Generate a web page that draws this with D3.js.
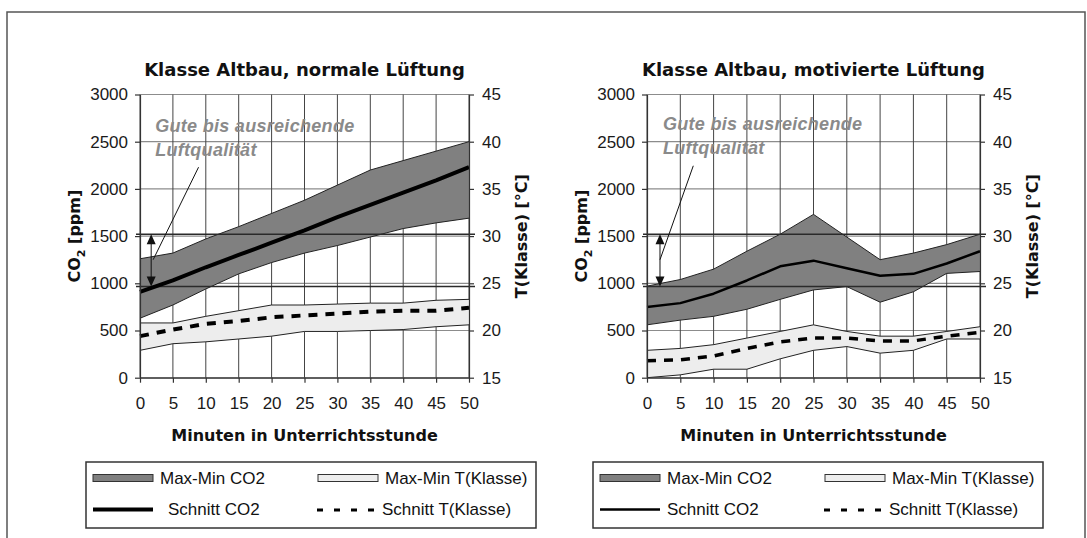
<!DOCTYPE html>
<html>
<head>
<meta charset="utf-8">
<script src="https://cdn.jsdelivr.net/npm/d3@7"></script>
<style>
  body { margin: 0; background: #fff; }
  svg { display: block; }
  .axis text { font-family: "Liberation Sans", Arial, sans-serif; font-size: 17px; fill: #1a1a1a; }
  .axis .domain, .axis line { stroke: #333; }
  .bold { font-family: "DejaVu Sans", sans-serif; font-weight: bold; fill: #111; }
  .legend text { font-family: "Liberation Sans", Arial, sans-serif; font-size: 17px; fill: #111; }
  .note { font-family: "Liberation Sans", Arial, sans-serif; font-weight: bold; font-style: italic; font-size: 18px; letter-spacing: 0.3px; fill: #8a8a8a; }
</style>
</head>
<body>
<svg id="chart" width="1087" height="538"></svg>
<script>
'use strict'

const minutes = [0, 5, 10, 15, 20, 25, 30, 35, 40, 45, 50]
const co2Ticks = [0, 500, 1000, 1500, 2000, 2500, 3000]
const tempTicks = [15, 20, 25, 30, 35, 40, 45]

// Klasse Altbau, normale Lüftung
const normalCo2Max = [1260, 1320, 1470, 1600, 1740, 1880, 2040, 2200, 2300, 2400, 2500]
const normalCo2Avg = [910, 1030, 1170, 1300, 1430, 1560, 1700, 1830, 1960, 2090, 2230]
const normalCo2Min = [630, 770, 940, 1100, 1220, 1320, 1400, 1490, 1580, 1640, 1690]
const normalTMax = [20.8, 20.8, 21.5, 22.1, 22.7, 22.7, 22.8, 22.9, 22.9, 23.2, 23.3]
const normalTAvg = [19.4, 20.1, 20.7, 21.0, 21.4, 21.6, 21.8, 22.0, 22.1, 22.1, 22.4]
const normalTMin = [17.9, 18.6, 18.8, 19.1, 19.4, 19.9, 19.9, 20.0, 20.1, 20.4, 20.6]

// Klasse Altbau, motivierte Lüftung
const motivCo2Max = [970, 1040, 1150, 1340, 1520, 1730, 1490, 1250, 1320, 1410, 1520]
const motivCo2Avg = [750, 790, 890, 1030, 1180, 1240, 1160, 1080, 1100, 1210, 1340]
const motivCo2Min = [560, 610, 650, 725, 830, 930, 965, 800, 910, 1105, 1125]
const motivTMax = [17.9, 18.1, 18.5, 19.2, 19.9, 20.6, 19.9, 19.4, 19.4, 19.9, 20.4]
const motivTAvg = [16.8, 16.9, 17.3, 18.1, 18.8, 19.2, 19.2, 18.9, 18.9, 19.4, 19.8]
const motivTMin = [15.0, 15.3, 15.9, 15.9, 17.0, 17.9, 18.3, 17.6, 17.9, 19.1, 19.1]

// band "Gute bis ausreichende Luftqualität" (ppm)
const airQualityLimits = [1520, 965]
const noteLines = ['Gute bis ausreichende', 'Luftqualität']
const legendLabels = ['Max-Min CO2', 'Max-Min T(Klasse)', 'Schnitt CO2', 'Schnitt T(Klasse)']

const panels = [
  {
    title: 'Klasse Altbau, normale Lüftung',
    left: 140, right: 469, legendX: 86,
    co2Max: normalCo2Max, co2Avg: normalCo2Avg, co2Min: normalCo2Min,
    tMax: normalTMax, tAvg: normalTAvg, tMin: normalTMin,
    avgWidth: 4, dashWidth: 4, row2TextX: 82,
    arrowAt: 1.7, noteAt: [2.3, 2600], pointer: [[8.9, 2230], [2.0, 1250]]
  },
  {
    title: 'Klasse Altbau, motivierte Lüftung',
    left: 647, right: 980, legendX: 593,
    co2Max: motivCo2Max, co2Avg: motivCo2Avg, co2Min: motivCo2Min,
    tMax: motivTMax, tAvg: motivTAvg, tMin: motivTMin,
    avgWidth: 2.5, dashWidth: 3.5, row2TextX: 74,
    arrowAt: 1.95, noteAt: [2.4, 2620], pointer: [[6.95, 2245], [1.95, 1250]]
  }
]

const svg = d3.select('#chart')
const plotTop = 94.5
const plotBottom = 377.7

// outer frame (runs off the bottom edge)
svg.append('rect')
  .attr('x', 7).attr('y', 12).attr('width', 1078).attr('height', 600)
  .attr('fill', 'none').attr('stroke', '#555').attr('stroke-width', 1.5)

panels.forEach(drawPanel)

function drawPanel (p) {
  const g = svg.append('g')
  const xScale = d3.scaleLinear().domain([0, 50]).range([p.left, p.right])
  const yScale = d3.scaleLinear().domain([0, 3000]).range([plotBottom, plotTop])
  const tScale = d3.scaleLinear().domain([15, 45]).range([plotBottom, plotTop])

  const rows = minutes.map((m, i) => ({
    m: m,
    co2Max: p.co2Max[i], co2Avg: p.co2Avg[i], co2Min: p.co2Min[i],
    tMax: p.tMax[i], tAvg: p.tAvg[i], tMin: p.tMin[i]
  }))

  // gridlines
  g.selectAll('.hgrid').data(co2Ticks).enter().append('line')
    .attr('x1', p.left).attr('x2', p.right)
    .attr('y1', d => yScale(d)).attr('y2', d => yScale(d))
    .attr('stroke', '#8c8c8c').attr('stroke-width', 1.2)

  g.selectAll('.vgrid').data(minutes).enter().append('line')
    .attr('x1', d => xScale(d)).attr('x2', d => xScale(d))
    .attr('y1', yScale(0)).attr('y2', yScale(3000))
    .attr('stroke', '#444').attr('stroke-width', 1)

  // max-min bands
  function band (scale, lo, hi, fill) {
    g.append('path').datum(rows)
      .attr('fill', fill)
      .attr('d', d3.area().x(d => xScale(d.m)).y0(d => scale(d[lo])).y1(d => scale(d[hi])))
    ;[lo, hi].forEach(k => {
      g.append('path').datum(rows)
        .attr('fill', 'none').attr('stroke', '#222').attr('stroke-width', 1)
        .attr('d', d3.line().x(d => xScale(d.m)).y(d => scale(d[k])))
    })
  }
  band(yScale, 'co2Min', 'co2Max', '#808080')
  band(tScale, 'tMin', 'tMax', '#ededed')

  // limits of the air quality range
  g.selectAll('.limit').data(airQualityLimits).enter().append('line')
    .attr('x1', p.left - 4).attr('x2', p.right + 6)
    .attr('y1', d => yScale(d)).attr('y2', d => yScale(d))
    .attr('stroke', '#2a2a2a').attr('stroke-width', 1.5)

  // averages
  g.append('path').datum(rows)
    .attr('fill', 'none').attr('stroke', '#000').attr('stroke-width', p.avgWidth)
    .attr('stroke-linejoin', 'round')
    .attr('d', d3.line().x(d => xScale(d.m)).y(d => yScale(d.co2Avg)))

  g.append('path').datum(rows)
    .attr('fill', 'none').attr('stroke', '#000').attr('stroke-width', p.dashWidth)
    .attr('stroke-dasharray', '9,8')
    .attr('d', d3.line().x(d => xScale(d.m)).y(d => tScale(d.tAvg)))

  // axes
  const yAxis = g.append('g').attr('class', 'axis')
    .attr('transform', 'translate(' + p.left + ',0)')
    .call(d3.axisLeft(yScale).tickValues(co2Ticks).tickFormat(d3.format('d'))
      .tickSizeInner(5).tickSizeOuter(0).tickPadding(7))

  const xAxis = g.append('g').attr('class', 'axis')
    .attr('transform', 'translate(0,' + plotBottom + ')')
    .call(d3.axisBottom(xScale).tickValues(minutes).tickFormat(d3.format('d'))
      .tickSizeInner(5).tickSizeOuter(0).tickPadding(14))

  const tAxis = g.append('g').attr('class', 'axis')
    .attr('transform', 'translate(' + p.right + ',0)')
    .call(d3.axisRight(tScale).tickValues(tempTicks).tickFormat(d3.format('d'))
      .tickSizeInner(5).tickSizeOuter(0).tickPadding(8))

  ;[yAxis, xAxis, tAxis].forEach(a => a.selectAll('.domain, line').attr('stroke-width', 1.2))

  // titles
  const cx = (p.left + p.right) / 2
  g.append('text').attr('class', 'bold')
    .attr('x', cx).attr('y', 76).attr('text-anchor', 'middle')
    .style('font-size', '18px').text(p.title)

  g.append('text').attr('class', 'bold')
    .attr('x', cx).attr('y', 441).attr('text-anchor', 'middle')
    .style('font-size', '16px').text('Minuten in Unterrichtsstunde')

  const yTitle = g.append('text').attr('class', 'bold')
    .attr('transform', 'translate(' + (p.left - 60) + ',' + ((plotTop + plotBottom) / 2) + ') rotate(-90)')
    .attr('text-anchor', 'middle').style('font-size', '16px')
  yTitle.append('tspan').text('CO')
  yTitle.append('tspan').attr('dy', 5).style('font-size', '11px').text('2')
  yTitle.append('tspan').attr('dy', -5).text(' [ppm]')

  g.append('text').attr('class', 'bold')
    .attr('transform', 'translate(' + (p.right + 58) + ',' + ((plotTop + plotBottom) / 2) + ') rotate(-90)')
    .attr('text-anchor', 'middle').style('font-size', '16px')
    .text('T(Klasse) [°C]')

  // note with pointer and double arrow
  g.selectAll('.note').data(noteLines).enter().append('text')
    .attr('class', 'note')
    .attr('x', xScale(p.noteAt[0]))
    .attr('y', (d, i) => yScale(p.noteAt[1]) + i * 23.5)
    .text(d => d)

  g.append('line')
    .attr('x1', xScale(p.pointer[0][0])).attr('y1', yScale(p.pointer[0][1]))
    .attr('x2', xScale(p.pointer[1][0])).attr('y2', yScale(p.pointer[1][1]))
    .attr('stroke', '#111').attr('stroke-width', 1)

  const ax = xScale(p.arrowAt)
  const aTop = yScale(airQualityLimits[0])
  const aBot = yScale(airQualityLimits[1])
  g.append('line')
    .attr('x1', ax).attr('x2', ax).attr('y1', aTop + 8).attr('y2', aBot - 8)
    .attr('stroke', '#111').attr('stroke-width', 1)
  g.append('path')
    .attr('d', 'M' + ax + ',' + aTop + 'l-4.5,10h9z M' + ax + ',' + aBot + 'l-4.5,-10h9z')
    .attr('fill', '#111')

  drawLegend(p)
}

function drawLegend (p) {
  const x0 = p.legendX
  const lg = svg.append('g').attr('class', 'legend')
  lg.append('rect')
    .attr('x', x0).attr('y', 462).attr('width', 450).attr('height', 66)
    .attr('fill', '#fff').attr('stroke', '#333').attr('stroke-width', 1.5)

  // row 1: bands
  lg.append('rect').attr('x', x0 + 7).attr('y', 474.5).attr('width', 60).attr('height', 7)
    .attr('fill', '#808080').attr('stroke', '#333').attr('stroke-width', 1)
  lg.append('text').attr('x', x0 + 74).attr('y', 484).text(legendLabels[0])

  lg.append('rect').attr('x', x0 + 232).attr('y', 474.5).attr('width', 60).attr('height', 7)
    .attr('fill', '#ededed').attr('stroke', '#333').attr('stroke-width', 1)
  lg.append('text').attr('x', x0 + 299).attr('y', 484).text(legendLabels[1])

  // row 2: averages
  lg.append('line').attr('x1', x0 + 7).attr('x2', x0 + 67).attr('y1', 509.5).attr('y2', 509.5)
    .attr('stroke', '#000').attr('stroke-width', p.avgWidth)
  lg.append('text').attr('x', x0 + p.row2TextX).attr('y', 515).text(legendLabels[2])

  lg.append('line').attr('x1', x0 + 231).attr('x2', x0 + 295).attr('y1', 510).attr('y2', 510)
    .attr('stroke', '#000').attr('stroke-width', 3).attr('stroke-dasharray', '6,11')
  lg.append('text').attr('x', x0 + 296).attr('y', 515).text(legendLabels[3])
}
</script>
</body>
</html>
